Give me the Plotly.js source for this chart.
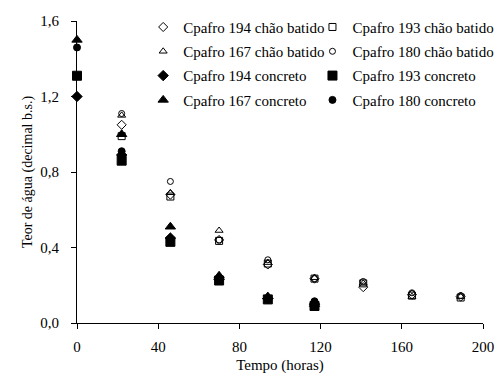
<!DOCTYPE html>
<html><head><meta charset="utf-8">
<script src="https://cdn.plot.ly/plotly-3.0.1.min.js"></script>
<style>body{margin:0;background:#fff}#chart{width:497px;height:374px}</style>
</head><body><div id="chart"></div>
<script>
const seriesNames = [
  "Cpafro 194 chão batido", "Cpafro 193 chão batido",
  "Cpafro 167 chão batido", "Cpafro 180 chão batido",
  "Cpafro 194 concreto", "Cpafro 193 concreto",
  "Cpafro 167 concreto", "Cpafro 180 concreto"
];
const symbols = ["diamond-open","square-open","triangle-up-open","circle-open","diamond","square","triangle-up","circle"];
const markerSizes = [7,7,7,6,8,9,9,7];
const legendColumn = ["legend","legend2","legend","legend2","legend","legend2","legend","legend2"];

const timeChao = [22, 46, 70, 94, 117, 141, 165, 189];
const c194chao = [1.05, 0.68, 0.44, 0.31, 0.235, 0.19, 0.15, 0.14];
const c193chao = [0.99, 0.67, 0.435, 0.315, 0.235, 0.21, 0.145, 0.135];
const c167chao = [1.10, 0.69, 0.49, 0.32, 0.24, 0.21, 0.14, 0.14];
const c180chao = [1.11, 0.75, 0.44, 0.335, 0.235, 0.22, 0.16, 0.145];

const timeConc = [0, 22, 46, 70, 94, 117];
const c194conc = [1.20, 0.89, 0.45, 0.23, 0.13, 0.10];
const c193conc = [1.31, 0.86, 0.43, 0.225, 0.125, 0.09];
const c167conc = [1.50, 1.00, 0.51, 0.25, 0.14, 0.10];
const c180conc = [1.46, 0.91, 0.44, 0.23, 0.13, 0.115];

const xTicks = [0, 40, 80, 120, 160, 200];
const xTickText = ["0", "40", "80", "120", "160", "200"];
const yTicks = [0, 0.4, 0.8, 1.2, 1.6];
const yTickText = ["0,0", "0,4", "0,8", "1,2", "1,6"];

const xs = [timeChao, timeChao, timeChao, timeChao, timeConc, timeConc, timeConc, timeConc];
const ys = [c194chao, c193chao, c167chao, c180chao, c194conc, c193conc, c167conc, c180conc];

const traces = seriesNames.map((n, i) => ({
  x: xs[i], y: ys[i], name: n, type: "scatter", mode: "markers", cliponaxis: false,
  legend: legendColumn[i], legendgroup: "g" + i,
  marker: {symbol: symbols[i], size: markerSizes[i], color: "#000", line: {color: "#000", width: 1}}
}));

const fam = "Liberation Serif";
const legendBase = {orientation: "v", xanchor: "left", y: 1.034, yanchor: "top",
  bgcolor: "rgba(0,0,0,0)", tracegroupgap: 1.8,
  font: {family: fam, size: 15, color: "#000"}, itemwidth: 30, traceorder: "grouped"};
const layout = {
  width: 497, height: 374,
  margin: {l: 77, r: 14, t: 21, b: 51, autoexpand: false},
  paper_bgcolor: "#fff", plot_bgcolor: "#fff",
  font: {family: fam, size: 14, color: "#000"},
  showlegend: true,
  legend: Object.assign({}, legendBase, {x: 0.163}),
  legend2: Object.assign({}, legendBase, {x: 0.58}),
  xaxis: {range: [0, 200], tickvals: xTicks, ticktext: xTickText, ticks: "outside", ticklen: 5,
    tickcolor: "#000", showline: true, linecolor: "#000", linewidth: 1, showgrid: false, zeroline: false,
    ticklabelstandoff: 5,
    tickfont: {family: fam, size: 15, color: "#000"},
    title: {text: "Tempo (horas)", font: {family: fam, size: 15, color: "#000"}, standoff: 15}},
  yaxis: {range: [0, 1.6], tickvals: yTicks, ticktext: yTickText, ticks: "outside", ticklen: 5,
    tickcolor: "#000", showline: true, linecolor: "#000", linewidth: 1, showgrid: false, zeroline: false,
    ticklabelstandoff: 9,
    tickfont: {family: fam, size: 15, color: "#000"},
    title: {text: "Teor de água (decimal b.s.)", font: {family: fam, size: 14, color: "#000"}, standoff: 4}}
};
Plotly.newPlot("chart", traces, layout, {staticPlot: true});
</script></body></html>
